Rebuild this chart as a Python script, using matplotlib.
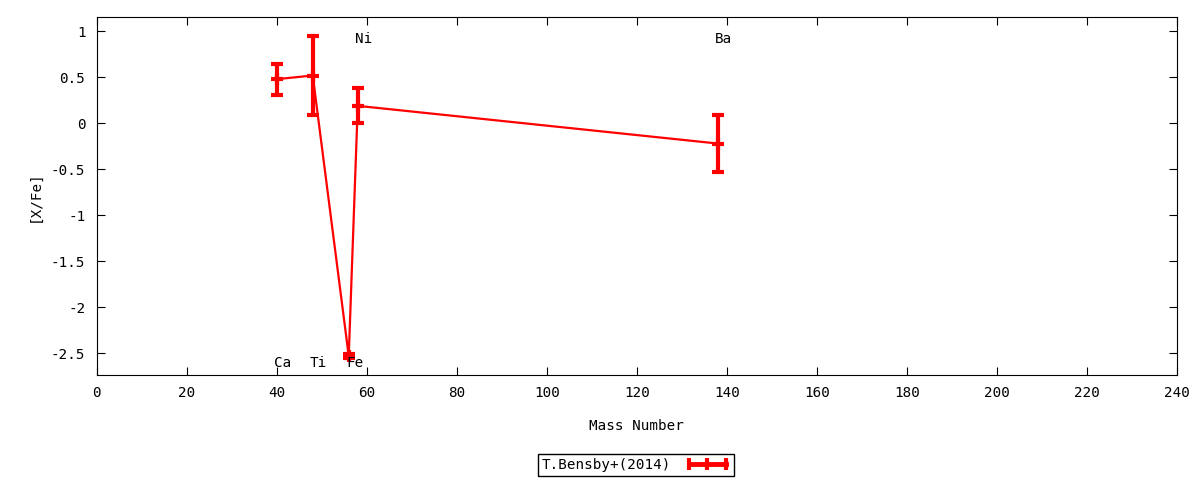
import matplotlib
matplotlib.use("Agg")
import matplotlib.pyplot as plt
from matplotlib.lines import Line2D

# Bensby et al. (2014) abundances
elements = ["Ca", "Ti", "Fe", "Ni", "Ba"]
mass = [40, 48, 56, 58, 138]
xfe = [0.48, 0.52, -2.53, 0.19, -0.22]
err = [0.17, 0.43, 0.02, 0.19, 0.31]
label_y = [-2.61, -2.61, -2.61, 0.92, 0.92]

plt.rcParams['font.family'] = ['DejaVu Sans Mono']
plt.rcParams['font.size'] = 10.3

fig = plt.figure(figsize=(12, 4.8), dpi=100)
ax = fig.add_axes([0.0805, 0.219, 0.9005, 0.745])

ax.errorbar(mass, xfe, yerr=err, color="red", lw=1.6, elinewidth=3,
            capsize=4, capthick=3, marker="+", ms=9, mew=3)

for el, m, ly in zip(elements, mass, label_y):
    ax.text(m - 0.6, ly, el, ha="left", va="center")

ax.set_xlim(0, 240)
ax.set_ylim(-2.735, 1.153)
ax.set_xticks(range(0, 241, 20))
ax.set_yticks([1, 0.5, 0, -0.5, -1, -1.5, -2, -2.5])
ax.set_yticklabels(["1", "0.5", "0", "-0.5", "-1", "-1.5", "-2", "-2.5"])
ax.tick_params(direction="in", top=True, right=True, length=6, pad=8)
ax.set_xlabel("Mass Number", labelpad=14)
ax.set_ylabel("[X/Fe]", labelpad=7)

# legend sample drawn like gnuplot's horizontal errorbar key
handle = Line2D([], [], color="red", lw=3.5, marker="|", ms=8, mew=3)
leg = fig.legend([handle], ["T.Bensby+(2014)"], loc="center",
                 bbox_to_anchor=(636 / 1200, 1 - 465 / 480),
                 markerfirst=False, fancybox=False, framealpha=1,
                 edgecolor="black", borderpad=0.3, handlelength=3.2,
                 numpoints=3, handletextpad=0.9, borderaxespad=0)
leg.get_frame().set_linewidth(1)

fig.savefig("out.png", dpi=100)
